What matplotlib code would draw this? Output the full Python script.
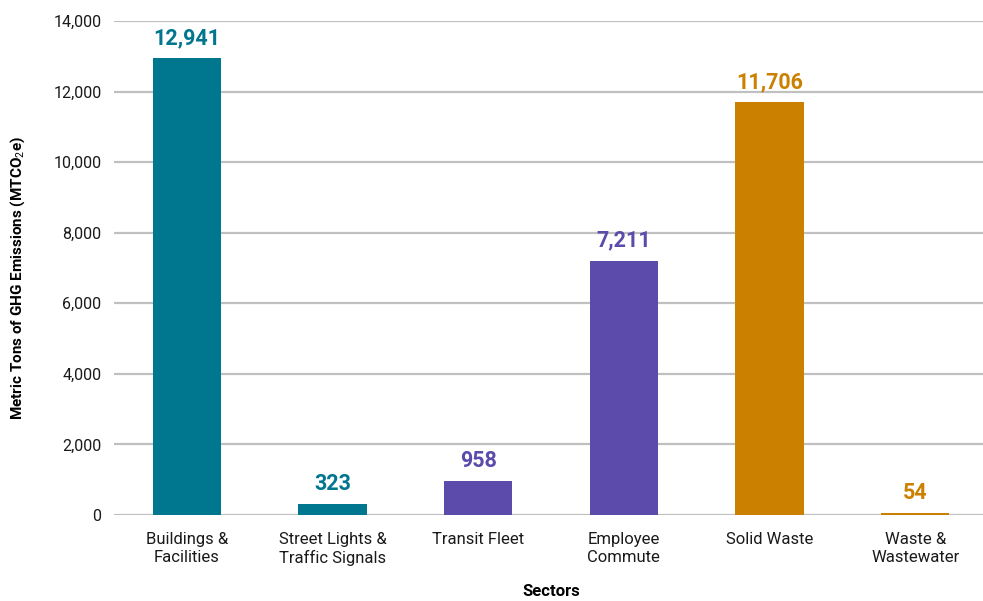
import numpy as np
import matplotlib.pyplot as plt

# GHG emissions by sector (MTCO2e)
sectors = ['Buildings &\nFacilities', 'Street Lights &\nTraffic Signals', 'Transit Fleet',
           'Employee\nCommute', 'Solid Waste', 'Waste &\nWastewater']
emissions = [12941, 323, 958, 7211, 11706, 54]
bar_colors = ['#00778F', '#00778F', '#5C4BAB', '#5C4BAB', '#CC8000', '#CC8000']
yticks = [0, 2000, 4000, 6000, 8000, 10000, 12000, 14000]

plt.rcParams['font.family'] = ['Roboto', 'DejaVu Sans']
plt.rcParams['mathtext.fontset'] = 'custom'
plt.rcParams['mathtext.rm'] = 'Roboto'

fig = plt.figure(figsize=(9.83, 6.01), dpi=100)
ax = fig.add_axes([114/983, 86/601, 874/983, 494/601])

x = np.arange(len(sectors))
ax.bar(x, emissions, width=0.467, color=bar_colors, zorder=3)

for xi, v, c in zip(x, emissions, bar_colors):
    ax.annotate(f'{v:,}', (xi, v), xytext=(0, 6.5), textcoords='offset points',
                ha='center', va='bottom', fontsize=15.5, fontweight='bold', color=c)

ax.set_xlim(-0.5, len(sectors) - 0.5)
ax.set_ylim(0, 14000)
ax.set_yticks(yticks)
ax.set_yticklabels([f'{t:,}' for t in yticks])
ax.set_xticks(x)
ax.set_xticklabels(sectors, linespacing=1.25)

ax.grid(axis='y', color='#C0C0C0', linewidth=1.6, zorder=0)
for s in ax.spines.values():
    s.set_visible(False)
ax.tick_params(axis='both', length=0, colors='#1a1a1a')
ax.tick_params(axis='y', pad=9, labelsize=11.5)
ax.tick_params(axis='x', pad=12, labelsize=12)

ax.set_ylabel(r'Metric Tons of GHG Emissions (MTCO$_2$e)', fontsize=11,
              fontweight='bold')
ax.yaxis.set_label_coords(-0.1, 0.48)
ax.set_xlabel('Sectors', fontsize=12, fontweight='bold', labelpad=13)

plt.savefig('out.png', dpi=100)
